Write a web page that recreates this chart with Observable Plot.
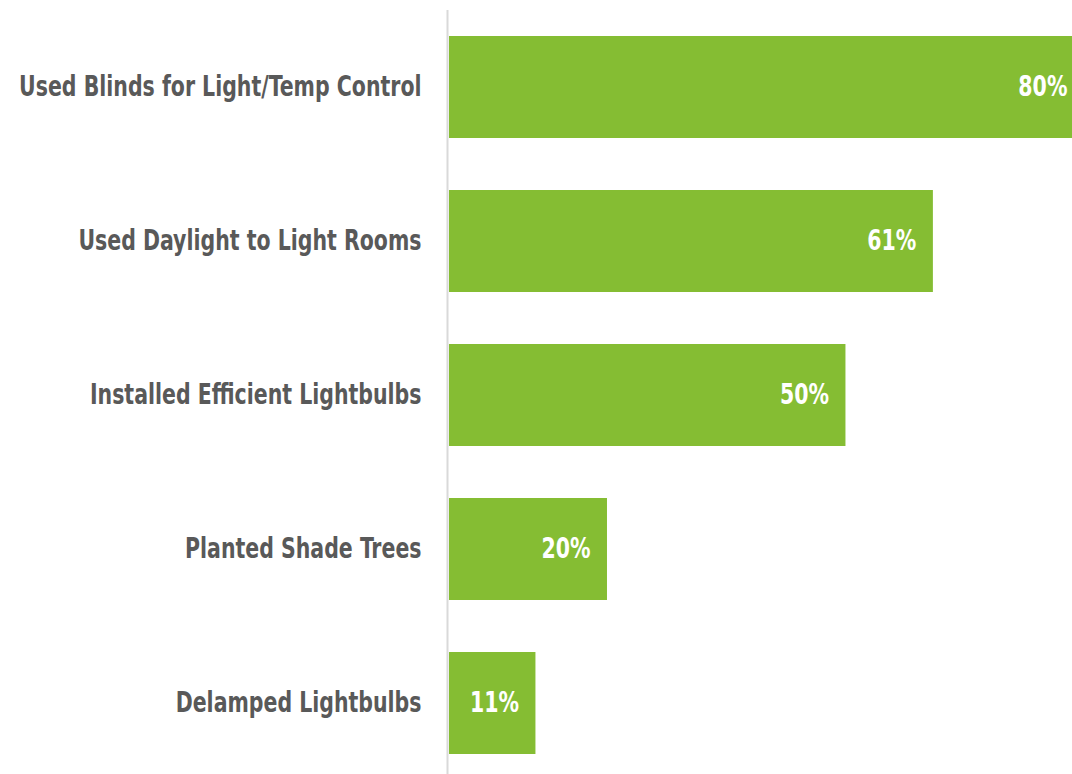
<!DOCTYPE html>
<html>
<head>
<meta charset="utf-8">
<script src="https://cdn.jsdelivr.net/npm/d3@7"></script>
<script src="https://cdn.jsdelivr.net/npm/@observablehq/plot@0.6"></script>
<style>
  html, body { margin: 0; padding: 0; background: #fff; }
  #chart svg { display: block; }
</style>
</head>
<body>
<div id="chart"></div>
<script>
const categories = [
  "Used Blinds for Light/Temp Control",
  "Used Daylight to Light Rooms",
  "Installed Efficient Lightbulbs",
  "Planted Shade Trees",
  "Delamped Lightbulbs"
];
const values = [80, 61, 50, 20, 11];

const data = categories.map((c, i) => ({category: c, value: values[i]}));
const font = '"DejaVu Sans Condensed", "DejaVu Sans", sans-serif';

const chart = Plot.plot({
  width: 1072,
  height: 774,
  marginLeft: 448,
  marginRight: 0,
  marginTop: 10,
  marginBottom: 0,
  style: {fontFamily: font, fontStretch: "condensed", background: "#fff"},
  x: {domain: [0, 78.5], axis: null},
  y: {domain: categories, paddingInner: 0.3377, paddingOuter: 0.149, align: 0.565, label: null},
  marks: [
    Plot.barX(data, {y: "category", x: "value", fill: "#85bd33", clip: true, insetLeft: 1}),
    Plot.ruleX([0], {stroke: "#d9d9d9", strokeWidth: 2, dx: -1}),
    Plot.text(data, {
      y: "category", x: "value", text: d => d.value + "%",
      textAnchor: "end", dx: -17, fill: "white", fontSize: 28, fontWeight: "bold"
    }),
    Plot.axisY({
      tickSize: 0, tickPadding: 27, fontSize: 28, fontWeight: "bold",
      fill: "#595959", label: null
    })
  ]
});
// narrow the condensed glyphs horizontally to approximate a narrow face
d3.select(chart).selectAll("text").each(function() {
  const t = this.getAttribute("transform") || "";
  this.setAttribute("transform", t + " scale(0.814,1)");
});
document.getElementById("chart").appendChild(chart);
</script>
</body>
</html>
